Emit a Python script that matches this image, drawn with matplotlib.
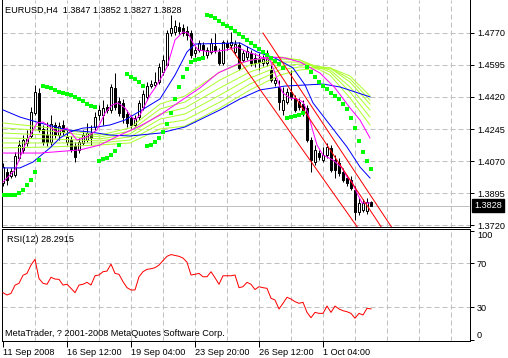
import matplotlib
matplotlib.use('Agg')
import matplotlib.pyplot as plt
import numpy as np

plt.rcParams.update({
    'font.family': ['Liberation Sans', 'DejaVu Sans'],
    'font.size': 6.6,
})

# EURUSD H4 bars, first bar 11 Sep 2008 20:00
opens = [1.3951, 1.4011, 1.3989, 1.3994, 1.4087, 1.4131, 1.4169, 1.4207, 1.4332, 1.4441,
         1.4245, 1.4212, 1.4174, 1.4267, 1.4212, 1.4267, 1.4174, 1.4185, 1.4152, 1.4131,
         1.4169, 1.4185, 1.4223, 1.4256, 1.4321, 1.4321, 1.4365, 1.4349, 1.4469, 1.4398,
         1.4387, 1.4327, 1.4305, 1.4267, 1.4310, 1.4365, 1.4420, 1.4479, 1.4485, 1.4501,
         1.4556, 1.4594, 1.4768, 1.4774, 1.4801, 1.4796, 1.4779, 1.4768, 1.4659, 1.4676,
         1.4703, 1.4648, 1.4665, 1.4697, 1.4665, 1.4605, 1.4714, 1.4703, 1.4665, 1.4703,
         1.4621, 1.4638, 1.4659, 1.4632, 1.4627, 1.4605, 1.4605, 1.4567, 1.4496, 1.4474,
         1.4349, 1.4392, 1.4447, 1.4414, 1.4392, 1.4381, 1.4360, 1.4185, 1.4065, 1.4114,
         1.4076, 1.4103, 1.4142, 1.4076, 1.4060, 1.4011, 1.3978, 1.3967, 1.3913, 1.3793,
         1.3804, 1.3798, 1.3847]
highs = [1.4060, 1.4033, 1.4033, 1.4120, 1.4185, 1.4212, 1.4240, 1.4365, 1.4485, 1.4469,
         1.4267, 1.4283, 1.4321, 1.4283, 1.4283, 1.4294, 1.4240, 1.4207, 1.4174, 1.4196,
         1.4240, 1.4278, 1.4267, 1.4338, 1.4376, 1.4403, 1.4381, 1.4490, 1.4550, 1.4420,
         1.4409, 1.4349, 1.4321, 1.4321, 1.4403, 1.4458, 1.4501, 1.4512, 1.4556, 1.4605,
         1.4648, 1.4785, 1.4866, 1.4839, 1.4828, 1.4817, 1.4806, 1.4785, 1.4703, 1.4730,
         1.4719, 1.4692, 1.4741, 1.4768, 1.4687, 1.4730, 1.4730, 1.4774, 1.4730, 1.4719,
         1.4676, 1.4697, 1.4676, 1.4659, 1.4659, 1.4648, 1.4676, 1.4594, 1.4528, 1.4512,
         1.4474, 1.4469, 1.4567, 1.4430, 1.4414, 1.4403, 1.4376, 1.4202, 1.4158, 1.4131,
         1.4147, 1.4169, 1.4158, 1.4103, 1.4087, 1.4033, 1.3994, 1.3989, 1.3935, 1.3869,
         1.3864, 1.3869, 1.3852]
lows = [1.3935, 1.3940, 1.3978, 1.3984, 1.4076, 1.4114, 1.4152, 1.4196, 1.4321, 1.4229,
        1.4158, 1.4152, 1.4158, 1.4196, 1.4185, 1.4212, 1.4158, 1.4120, 1.4065, 1.4114,
        1.4158, 1.4174, 1.4158, 1.4240, 1.4294, 1.4267, 1.4332, 1.4332, 1.4349, 1.4316,
        1.4278, 1.4256, 1.4250, 1.4256, 1.4294, 1.4349, 1.4403, 1.4469, 1.4474, 1.4490,
        1.4539, 1.4588, 1.4752, 1.4757, 1.4763, 1.4752, 1.4730, 1.4632, 1.4638, 1.4665,
        1.4632, 1.4632, 1.4654, 1.4659, 1.4594, 1.4594, 1.4676, 1.4687, 1.4648, 1.4567,
        1.4610, 1.4621, 1.4588, 1.4583, 1.4567, 1.4588, 1.4588, 1.4501, 1.4479, 1.4349,
        1.4321, 1.4381, 1.4403, 1.4338, 1.4349, 1.4316, 1.4174, 1.4011, 1.4049, 1.4076,
        1.4065, 1.4087, 1.4011, 1.3978, 1.3989, 1.3956, 1.3935, 1.3913, 1.3749, 1.3776,
        1.3793, 1.3782, 1.3827]
closes = [1.4038, 1.3967, 1.4016, 1.4098, 1.4158, 1.4185, 1.4196, 1.4338, 1.4447, 1.4240,
          1.4174, 1.4174, 1.4272, 1.4212, 1.4261, 1.4229, 1.4202, 1.4131, 1.4093, 1.4174,
          1.4212, 1.4223, 1.4196, 1.4310, 1.4349, 1.4360, 1.4349, 1.4474, 1.4365, 1.4332,
          1.4310, 1.4278, 1.4267, 1.4305, 1.4387, 1.4436, 1.4479, 1.4490, 1.4501, 1.4583,
          1.4621, 1.4768, 1.4796, 1.4806, 1.4779, 1.4768, 1.4757, 1.4648, 1.4676, 1.4714,
          1.4676, 1.4676, 1.4714, 1.4676, 1.4605, 1.4719, 1.4692, 1.4719, 1.4708, 1.4578,
          1.4659, 1.4670, 1.4605, 1.4605, 1.4610, 1.4627, 1.4632, 1.4512, 1.4512, 1.4392,
          1.4403, 1.4447, 1.4420, 1.4349, 1.4365, 1.4332, 1.4185, 1.4076, 1.4131, 1.4093,
          1.4103, 1.4147, 1.4022, 1.4022, 1.4005, 1.3967, 1.3951, 1.3924, 1.3793, 1.3842,
          1.3842, 1.3847, 1.3828]

# parabolic SAR, one value per bar
sar = [1.3885, 1.3885, 1.3885, 1.3885, 1.3896, 1.3913, 1.3940, 1.3967, 1.4011, 1.4076,
       1.4479, 1.4474, 1.4469, 1.4458, 1.4447, 1.4441, 1.4436, 1.4430, 1.4420, 1.4409,
       1.4398, 1.4381, 1.4371, 1.4365, 1.4071, 1.4082, 1.4087, 1.4103, 1.4125, 1.4158,
       np.nan, 1.4545, 1.4528, 1.4518, 1.4501, 1.4479, 1.4152, 1.4158, 1.4174, 1.4196,
       1.4229, 1.4272, 1.4332, 1.4409, 1.4474, 1.4528, 1.4572, 1.4610, 1.4621, 1.4627,
       1.4632, 1.4866, 1.4861, 1.4850, 1.4834, 1.4817, 1.4806, 1.4796, 1.4779, 1.4763,
       1.4747, 1.4730, 1.4714, 1.4697, 1.4681, 1.4665, 1.4648, 1.4632, 1.4616, 1.4599,
       1.4578, 1.4305, 1.4310, 1.4316, 1.4321, 1.4332, 1.4583, 1.4556, 1.4528, 1.4501,
       1.4479, 1.4463, 1.4441, 1.4425, 1.4409, 1.4381, 1.4354, 1.4305, 1.4251, 1.4180,
       1.4120, 1.4071, 1.4027]

# RSI(12), one value per bar
rsi = [43.1, 41.0, 42.5, 50.0, 51.7, 59.0, 60.8, 68.4, 73.6, 56.0,
       51.7, 50.8, 57.2, 55.6, 55.3, 50.1, 50.8, 47.1, 43.1, 50.1,
       50.8, 52.6, 50.1, 58.6, 59.3, 62.3, 62.9, 69.3, 60.8, 59.9,
       53.2, 47.7, 45.6, 45.6, 57.7, 62.3, 64.5, 65.0, 66.0, 68.4,
       72.5, 76.4, 78.0, 77.2, 76.4, 74.8, 71.0, 59.3, 59.9, 60.8,
       57.7, 57.7, 62.3, 56.8, 50.8, 58.6, 58.6, 58.6, 59.3, 47.7,
       48.6, 52.6, 50.8, 46.0, 48.6, 47.7, 47.1, 38.0, 36.4, 28.2,
       33.4, 38.9, 37.3, 34.9, 33.4, 34.3, 25.1, 20.2, 25.1, 24.2,
       24.2, 30.9, 25.1, 30.9, 28.2, 26.6, 25.7, 24.2, 19.7, 24.2,
       22.7, 28.8, 28.29]

# moving averages (bar position, price)
ma_fast_x = [0, 3, 5.5, 8.5, 10, 11.75, 13.5, 16, 18.5, 21, 23.5, 25.5, 27.25, 28.75,
             30.5, 31.75, 33, 34.25, 35.5, 36.75, 38, 39.25, 41, 43, 45, 46.25, 47.5,
             48.75, 51.75, 56, 58.5, 61, 63.5, 65, 66.75, 68, 69.25, 70, 71.75, 73.5,
             75, 76.25, 77.25, 78.5, 80, 82.5, 84.75, 86, 87.25, 88.5, 89.75, 91.75]
ma_fast_y = [1.3956, 1.4022, 1.4158, 1.4278, 1.4283, 1.4256, 1.4229, 1.4250, 1.4185,
             1.4202, 1.4240, 1.4332, 1.4376, 1.4387, 1.4360, 1.4321, 1.4294, 1.4321,
             1.4376, 1.4430, 1.4469, 1.4512, 1.4583, 1.4730, 1.4774, 1.4768, 1.4714,
             1.4676, 1.4665, 1.4676, 1.4692, 1.4665, 1.4648, 1.4632, 1.4621, 1.4550,
             1.4474, 1.4441, 1.4414, 1.4409, 1.4392, 1.4332, 1.4251, 1.4158, 1.4103,
             1.4076, 1.4033, 1.3984, 1.3956, 1.3896, 1.3842, 1.3842]
ma_slow_x = [0, 9.25, 19.25, 24.25, 29.25, 34.25, 39.25, 45.5, 49.25, 53.75, 59.25,
             62.25, 66.75, 70.5, 74.25, 79.25, 83, 86.75, 89.25, 91.75]
ma_slow_y = [1.4114, 1.4114, 1.4131, 1.4158, 1.4212, 1.4261, 1.4321, 1.4414, 1.4469,
             1.4550, 1.4605, 1.4621, 1.4638, 1.4632, 1.4610, 1.4550, 1.4469, 1.4360,
             1.4294, 1.4196]
blue1_x = [0, 4.25, 7.5, 11.75, 14.25, 16.75, 20, 23.5, 26.75, 30.5, 34.75, 39.25,
           43, 46, 48, 59.25, 63.5, 68, 72.5, 75.5, 77.5, 81.75, 86, 89.25, 91.75]
blue1_y = [1.4033, 1.4033, 1.4065, 1.4142, 1.4196, 1.4229, 1.4250, 1.4256, 1.4267,
           1.4294, 1.4349, 1.4409, 1.4539, 1.4665, 1.4708, 1.4714, 1.4665, 1.4632,
           1.4578, 1.4485, 1.4387, 1.4267, 1.4147, 1.4038, 1.3978]
blue2_x = [0, 4.25, 9.25, 16, 21.75, 26.75, 31.75, 39.25, 45.5, 54.25, 59.25, 64.25,
           70.5, 80, 84.25, 91.75]
blue2_y = [1.4349, 1.4310, 1.4278, 1.4240, 1.4229, 1.4212, 1.4207, 1.4223, 1.4256,
           1.4349, 1.4409, 1.4458, 1.4479, 1.4490, 1.4474, 1.4420]

ribbon_x = [0, 11.75, 24.25, 31.75, 39.25, 45.5, 54.25, 61.75, 69.25, 74.25, 81.75, 86.75, 91.75]
ribbon = [
    [1.4278, 1.4251, 1.4212, 1.4251, 1.4381, 1.4425, 1.4556, 1.4621, 1.4638, 1.4621, 1.4539, 1.4414, 1.4267],
    [1.4251, 1.4234, 1.4202, 1.4234, 1.4354, 1.4392, 1.4512, 1.4594, 1.4627, 1.4621, 1.4556, 1.4447, 1.4310],
    [1.4223, 1.4212, 1.4191, 1.4218, 1.4327, 1.4360, 1.4469, 1.4556, 1.4610, 1.4610, 1.4567, 1.4474, 1.4349],
    [1.4196, 1.4191, 1.4180, 1.4202, 1.4299, 1.4327, 1.4430, 1.4523, 1.4588, 1.4599, 1.4578, 1.4501, 1.4381],
    [1.4169, 1.4169, 1.4169, 1.4185, 1.4272, 1.4294, 1.4392, 1.4490, 1.4567, 1.4583, 1.4578, 1.4518, 1.4403],
    [1.4142, 1.4147, 1.4158, 1.4169, 1.4245, 1.4261, 1.4360, 1.4458, 1.4539, 1.4567, 1.4578, 1.4534, 1.4425],
]

# trend channel lines (start bar, start price, end bar, end price)
channel = [
    (65.0, 1.4768, 98.0, 1.3682),
    (67.25, 1.4610, 98.0, 1.3598),
    (56.75, 1.4692, 91.75, 1.3613),
]

price_levels = [1.4770, 1.4595, 1.4420, 1.4245, 1.4070, 1.3895, 1.3720]
time_ticks = [0, 16, 32, 48, 64, 80]
time_labels = ['11 Sep 2008', '16 Sep 12:00', '19 Sep 04:00', '23 Sep 20:00',
               '26 Sep 12:00', '1 Oct 04:00']
last_price = 1.3828

grid_c = '#C0C0C0'
lw = 0.72
idx = np.arange(len(closes))
grid_x = np.arange(8, 117, 8)

fig = plt.figure(figsize=(5.08, 3.58), dpi=100)
ax = fig.add_axes([2 / 508, 131 / 358, 468 / 508, 227 / 358])
ax2 = fig.add_axes([2 / 508, 17 / 358, 468 / 508, 112 / 358])

# ---- price panel
for gx in grid_x:
    ax.axvline(gx, color=grid_c, lw=lw, ls=(0, (5, 3)), zorder=0)
for lv in price_levels:
    ax.axhline(lv, color=grid_c, lw=lw, ls=(0, (5, 3)), zorder=0)
ax.axhline(last_price, color=grid_c, lw=lw, zorder=0.5)

o = np.array(opens); c = np.array(closes)
ax.vlines(idx, lows, highs, color='black', lw=lw, zorder=2)
bull = c >= o
ax.bar(idx[bull], (c - o)[bull], bottom=o[bull], width=0.5, color='white',
       edgecolor='black', lw=lw, zorder=3)
ax.bar(idx[~bull], (c - o)[~bull], bottom=o[~bull], width=0.5, color='black',
       edgecolor='black', lw=lw, zorder=3)

for row in ribbon:
    ax.plot(ribbon_x, row, color='#ADFF2F', lw=lw, zorder=4)
ax.plot(blue2_x, blue2_y, color='#0000FF', lw=lw, zorder=4)
ax.plot(blue1_x, blue1_y, color='#0000FF', lw=lw, zorder=4)
ax.plot(ma_slow_x, ma_slow_y, color='#FF00FF', lw=lw, zorder=4)
ax.plot(ma_fast_x, ma_fast_y, color='#FF00FF', lw=lw, zorder=4)
for x0, y0, x1, y1 in channel:
    ax.plot([x0, x1], [y0, y1], color='#FF0000', lw=lw, zorder=4)
ax.plot(idx, sar, 's', color='#00FF00', ms=2.3, mew=0, zorder=5)

ax.set_xlim(-0.25, 116.75)
ax.set_ylim(1.3711, 1.4948)
ax.set_xticks([])
ax.yaxis.tick_right()
ax.set_yticks(price_levels)
ax.set_yticklabels(['%.4f' % v for v in price_levels])
ax.tick_params(axis='y', length=3, width=lw, pad=2, colors='black')
for s in ax.spines.values():
    s.set_linewidth(lw)
ax.spines['top'].set_visible(False)

ax.annotate('%.4f' % last_price, xy=(1.0, last_price),
            xycoords=('axes fraction', 'data'), xytext=(3, 0),
            textcoords='offset points', va='center', ha='left', color='white',
            bbox=dict(boxstyle='square,pad=0.25', fc='black', ec='black'))

# ---- RSI panel
for gx in grid_x:
    ax2.axvline(gx, color=grid_c, lw=lw, ls=(0, (5, 3)), zorder=0)
for lv in [70, 30]:
    ax2.axhline(lv, color=grid_c, lw=lw, ls=(0, (5, 3)), zorder=0)
ax2.plot(idx, rsi, color='#FF0000', lw=lw, zorder=3)
ax2.set_xlim(-0.25, 116.75)
ax2.set_ylim(-1.1, 101.4)
ax2.yaxis.tick_right()
ax2.set_yticks([0, 30, 70, 100])
ax2.set_yticklabels(['0', '30', '70', '100'])
ylabs = ax2.get_yticklabels()
ylabs[0].set_va('bottom')
ylabs[3].set_va('top')
ax2.tick_params(axis='y', length=3, width=lw, pad=2, colors='black')
ax2.set_xticks(time_ticks)
ax2.set_xticklabels(time_labels, ha='left')
ax2.tick_params(axis='x', length=4, width=lw, pad=1, colors='black')
for s in ax2.spines.values():
    s.set_linewidth(lw)

fig.text(5 / 508, 1 - 10 / 358, 'EURUSD,H4  1.3847 1.3852 1.3827 1.3828', va='center')
fig.text(7 / 508, 1 - 240 / 358, 'RSI(12) 28.2915', va='center')
fig.text(5 / 508, 1 - 333 / 358, 'MetaTrader, ? 2001-2008 MetaQuotes Software Corp.', va='center')

fig.savefig('out.png', dpi=100)
